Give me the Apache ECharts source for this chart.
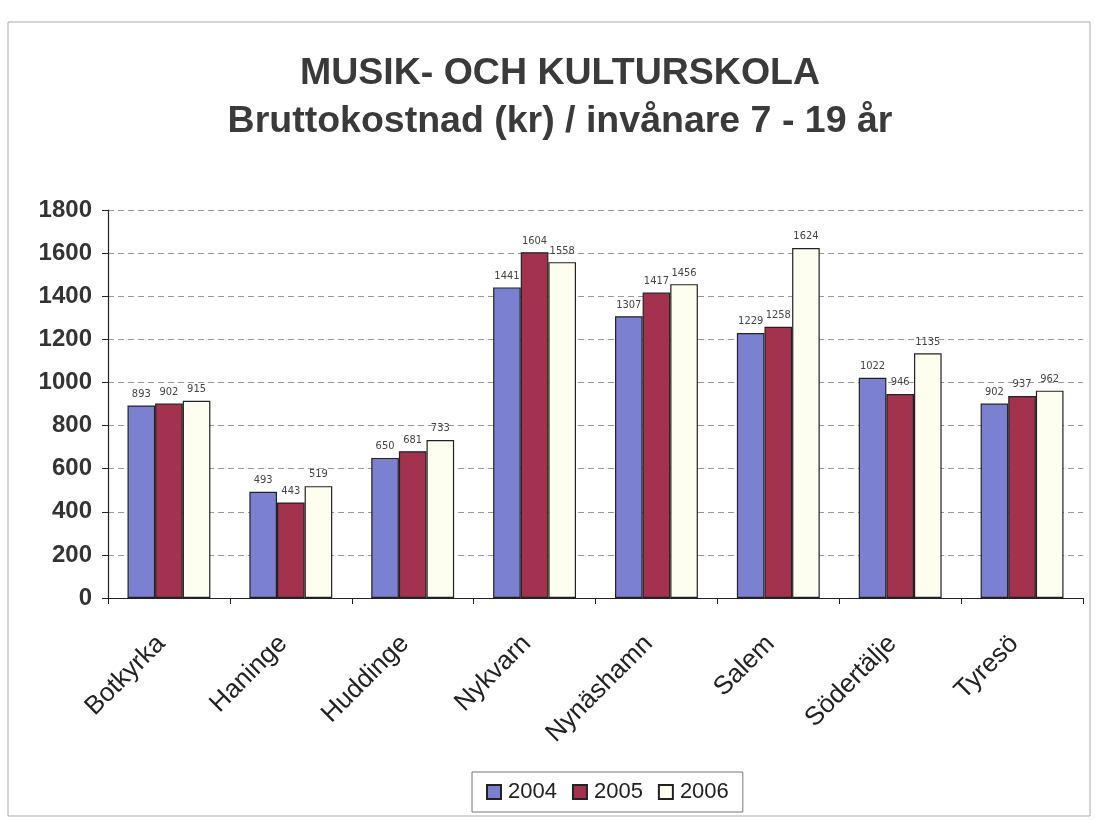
<!DOCTYPE html>
<html><head><meta charset="utf-8">
<script src="https://cdn.jsdelivr.net/npm/echarts@6/dist/echarts.min.js"></script>
<style>html,body{margin:0;padding:0;background:#fff}#c{width:1095px;height:821px}</style>
</head><body><div id="c"></div>
<script>
const categories = ['Botkyrka','Haninge','Huddinge','Nykvarn','Nynäshamn','Salem','Södertälje','Tyresö'];
const seriesNames = ['2004','2005','2006'];
const v2004 = [893, 493, 650, 1441, 1307, 1229, 1022, 902];
const v2005 = [902, 443, 681, 1604, 1417, 1258, 946, 937];
const v2006 = [915, 519, 733, 1558, 1456, 1624, 1135, 962];
const colors = ['#7c80d0', '#a3324f', '#fdfdf0'];
const values = [v2004, v2005, v2006];

const chart = echarts.init(document.getElementById('c'));
chart.setOption({
  backgroundColor: '#ffffff',
  animation: false,
  title: {
    text: 'MUSIK- OCH KULTURSKOLA\nBruttokostnad (kr) / invånare 7 - 19 år',
    left: 555, top: 45, textAlign: 'center',
    textStyle: { fontFamily: 'Liberation Sans, Arial', fontSize: 37.5, fontWeight: 'bold', color: '#3a3a3a', lineHeight: 48 }
  },
  graphic: [{
    type: 'rect', shape: { x: 8, y: 22, width: 1082, height: 794 },
    style: { fill: 'none', stroke: '#aaaaaa', lineWidth: 1 }, silent: true, z: -1
  }],
  legend: {
    data: seriesNames, top: 772, left: 472,
    itemWidth: 14, itemHeight: 14, itemGap: 15,
    borderColor: '#777', borderWidth: 1, padding: [9, 14],
    textStyle: { fontFamily: 'Liberation Sans, Arial', fontSize: 22, color: '#222', padding: [0, 0, 0, 2] },
    icon: 'rect'
  },
  grid: { left: 108, right: 12, top: 210, bottom: 223 },
  xAxis: {
    type: 'category', data: categories,
    axisLine: { lineStyle: { color: '#222', width: 1.2 } },
    axisTick: { show: true, lineStyle: { color: '#222' }, length: 6 },
    axisLabel: { rotate: 45, fontFamily: 'Liberation Sans, Arial', fontSize: 26, color: '#222', margin: 34, padding: [0, 11, 0, 0] },
    splitLine: { show: false }
  },
  yAxis: {
    type: 'value', min: 0, max: 1800, interval: 200,
    axisLine: { show: true, lineStyle: { color: '#222', width: 1.2 } },
    axisTick: { show: true, inside: false, length: 6, lineStyle: { color: '#222' } },
    axisLabel: { fontFamily: 'Liberation Sans, Arial', fontSize: 24, fontWeight: 'bold', color: '#333', margin: 16,
      formatter: v => String(v) },
    splitLine: { show: true, lineStyle: { color: '#999', type: [6, 4], width: 1 } }
  },
  series: seriesNames.map((n, i) => ({
    name: n, type: 'bar', data: values[i],
    barGap: '0%', barCategoryGap: '32%',
    itemStyle: { color: colors[i], borderColor: '#222', borderWidth: 1.2 },
    label: { show: true, position: 'top', distance: 6, fontFamily: 'DejaVu Sans Condensed, Liberation Sans Narrow, Arial', fontSize: 11, color: '#444' }
  }))
});
</script></body></html>
